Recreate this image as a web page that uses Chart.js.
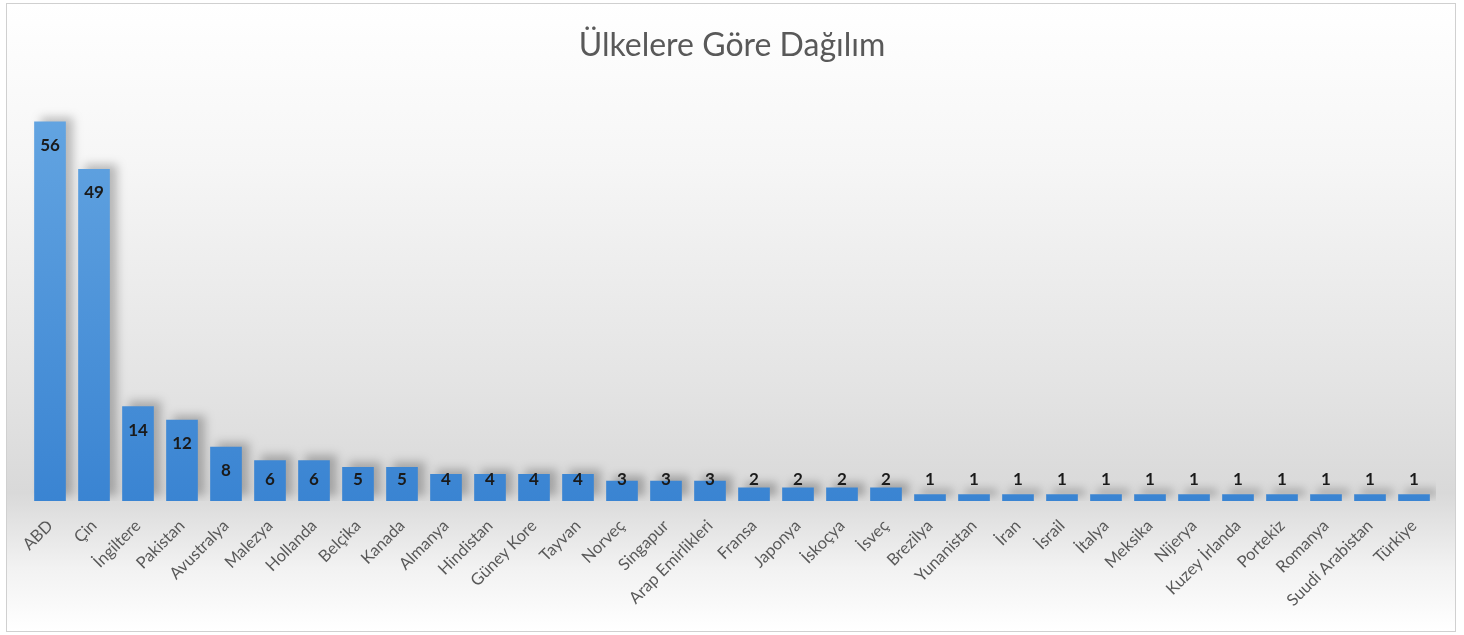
<!DOCTYPE html>
<html lang="tr">
<head>
<meta charset="utf-8">
<title>Ülkelere Göre Dağılım</title>
<script src="https://cdn.jsdelivr.net/npm/chart.js@4.4.1/dist/chart.umd.min.js"></script>
<style>
    html, body {
        margin: 0;
        padding: 0;
        background: #ffffff;
    }
    .chart-box {
        position: absolute;
        left: 6px;
        top: 3px;
        width: 1448px;
        height: 627px;
        border: 1px solid #d0d0d0;
        background: linear-gradient(to bottom, #ffffff 0%, #f6f6f6 25%, #e4e4e4 60%, #d9d9d9 78%, #f2f2f2 90%, #ffffff 100%);
    }
</style>
</head>
<body>
<div class="chart-box">
    <canvas id="countryChart"></canvas>
</div>
<script>
const countries = [
    'ABD', 'Çin', 'İngiltere', 'Pakistan', 'Avustralya', 'Malezya', 'Hollanda', 'Belçika',
    'Kanada', 'Almanya', 'Hindistan', 'Güney Kore', 'Tayvan', 'Norveç', 'Singapur',
    'Arap Emirlikleri', 'Fransa', 'Japonya', 'İskoçya', 'İsveç', 'Brezilya', 'Yunanistan',
    'İran', 'İsrail', 'İtalya', 'Meksika', 'Nijerya', 'Kuzey İrlanda', 'Portekiz',
    'Romanya', 'Suudi Arabistan', 'Türkiye'
];
const counts = [
    56, 49, 14, 12, 8, 6, 6, 5,
    5, 4, 4, 4, 4, 3, 3,
    3, 2, 2, 2, 2, 1, 1,
    1, 1, 1, 1, 1, 1, 1,
    1, 1, 1
];

const FONT = 'Lato, "Open Sans", sans-serif';

// gölge sadece çubuklara uygulanır
const barShadow = {
    id: 'barShadow',
    beforeDatasetsDraw(chart) {
        const ctx = chart.ctx;
        ctx.save();
        ctx.shadowColor = 'rgba(0, 0, 0, 0.25)';
        ctx.shadowBlur = 9;
        ctx.shadowOffsetX = 7;
        ctx.shadowOffsetY = -5;
    },
    afterDatasetsDraw(chart) {
        chart.ctx.restore();
    }
};

// değer etiketleri: çubuğun üst kısmının içinde, küçük çubuklarda üstünde
const valueLabels = {
    id: 'valueLabels',
    afterDatasetsDraw(chart) {
        const ctx = chart.ctx;
        const meta = chart.getDatasetMeta(0);
        const base = chart.scales.y.getPixelForValue(0);
        ctx.save();
        ctx.font = 'bold 17px ' + FONT;
        ctx.fillStyle = '#1a1a1a';
        ctx.textAlign = 'center';
        ctx.textBaseline = 'middle';
        meta.data.forEach((bar, i) => {
            const y = Math.min(bar.y + 24, base - 21);
            ctx.fillText(String(counts[i]), bar.x, y);
        });
        ctx.restore();
    }
};

const ctx = document.getElementById('countryChart').getContext('2d');

new Chart(ctx, {
    type: 'bar',
    data: {
        labels: countries,
        datasets: [{
            data: counts,
            backgroundColor: function(context) {
                const area = context.chart.chartArea;
                if (!area) {
                    return '#4a8fd8';
                }
                const g = context.chart.ctx.createLinearGradient(0, area.top, 0, area.bottom);
                g.addColorStop(0, '#65a6e2');
                g.addColorStop(1, '#3a84d2');
                return g;
            },
            borderWidth: 0,
            barPercentage: 0.72,
            categoryPercentage: 1
        }]
    },
    options: {
        responsive: true,
        maintainAspectRatio: false,
        animation: false,
        layout: {
            padding: { left: 21, right: 19, top: 0, bottom: 0 }
        },
        plugins: {
            legend: { display: false },
            tooltip: { enabled: false },
            title: {
                display: true,
                text: 'Ülkelere Göre Dağılım',
                color: '#595959',
                font: { family: FONT, size: 32, weight: '400' },
                padding: { top: 22, bottom: 30 }
            }
        },
        scales: {
            x: {
                grid: { display: false },
                border: { display: false },
                ticks: {
                    color: '#595959',
                    font: { family: FONT, size: 16.5 },
                    minRotation: 45,
                    maxRotation: 45,
                    autoSkip: false,
                    padding: 7
                },
                afterFit: function(scale) {
                    scale.height = 130;
                }
            },
            y: {
                display: false,
                min: 0,
                max: 60
            }
        }
    },
    plugins: [barShadow, valueLabels]
});
</script>
</body>
</html>
